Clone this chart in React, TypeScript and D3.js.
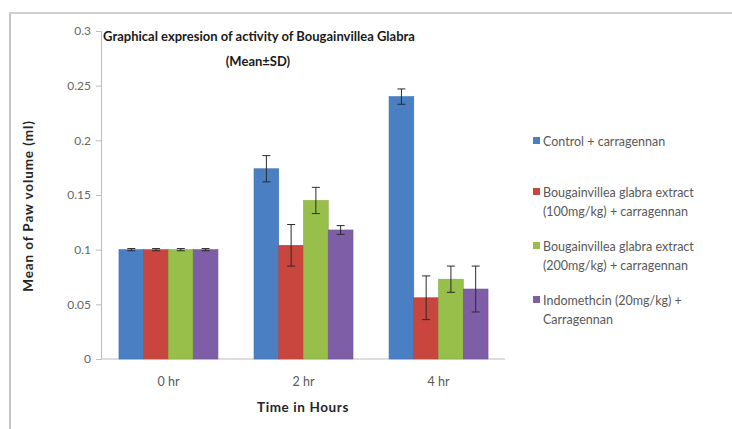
import { useEffect, useRef } from 'react'
import * as d3 from 'd3'

const categories = ['0 hr', '2 hr', '4 hr']
const seriesNames = [
  ['Control + carragennan'],
  ['Bougainvillea glabra extract', '(100mg/kg) + carragennan'],
  ['Bougainvillea glabra extract', '(200mg/kg) + carragennan'],
  ['Indomethcin (20mg/kg) +', 'Carragennan'],
]
const seriesColors = ['#4a7fc4', '#c9463f', '#97bf4a', '#7e5ea6']
// mean values per series, one per category
const control = [0.1, 0.174, 0.24]
const ext100 = [0.1, 0.104, 0.056]
const ext200 = [0.1, 0.145, 0.073]
const indo = [0.1, 0.118, 0.064]
// SD values
const controlSd = [0.001, 0.012, 0.007]
const ext100Sd = [0.001, 0.019, 0.02]
const ext200Sd = [0.001, 0.012, 0.012]
const indoSd = [0.001, 0.004, 0.021]
const yTicks = [0, 0.05, 0.1, 0.15, 0.2, 0.25, 0.3]

const FONT = 'Lato, "Open Sans", sans-serif'

export default function App() {
  const ref = useRef<SVGSVGElement>(null)

  useEffect(() => {
    const svg = d3.select(ref.current)
    svg.selectAll('*').remove()

    const means = [control, ext100, ext200, indo]
    const sds = [controlSd, ext100Sd, ext200Sd, indoSd]

    // outer frame (only left + top visible in the original)
    svg.append('line').attr('x1', 10).attr('x2', 10).attr('y1', 13).attr('y2', 429)
      .attr('stroke', '#c4c4c4').attr('stroke-width', 2)
    svg.append('line').attr('x1', 9).attr('x2', 732).attr('y1', 13).attr('y2', 13)
      .attr('stroke', '#cfcfcf').attr('stroke-width', 2)

    const y = d3.scaleLinear().domain([0, 0.3]).range([359, 31])
    const x = d3.scaleBand().domain(categories).range([101, 506]).paddingInner(0.267).paddingOuter(0.133)
    const xs = d3.scaleBand().domain(d3.range(4).map(String)).range([0, x.bandwidth()]).padding(0)

    // y axis
    const yAxis = svg.append('g').attr('transform', 'translate(101,0)')
      .call(d3.axisLeft(y).tickValues(yTicks).tickSize(5).tickFormat((d) => String(+d)))
    yAxis.select('.domain').attr('stroke', '#bdbdbd')
    yAxis.selectAll('.tick line').attr('stroke', '#bdbdbd')
    yAxis.selectAll('.tick text').attr('fill', '#666').attr('font-family', FONT)
      .attr('font-size', 12).attr('x', -10)

    // x axis line
    svg.append('line').attr('x1', 101).attr('x2', 505).attr('y1', y(0)).attr('y2', y(0))
      .attr('stroke', '#bdbdbd')

    categories.forEach((c) => {
      svg.append('text').attr('x', x(c)! + x.bandwidth() / 2).attr('y', 386)
        .attr('text-anchor', 'middle').attr('fill', '#595959').attr('font-family', FONT)
        .attr('font-size', 12.5).text(c)
    })

    const g = svg.append('g')
    means.forEach((vals, si) => {
      vals.forEach((v, ci) => {
        const bx = x(categories[ci])! + xs(String(si))!
        const w = xs.bandwidth()
        g.append('rect').attr('x', bx).attr('y', y(v)).attr('width', w).attr('height', y(0) - y(v))
          .attr('fill', seriesColors[si])
          .attr('stroke', d3.color(seriesColors[si])!.darker(0.3).toString()).attr('stroke-width', 0.6)
        const sd = sds[si][ci]
        const cx = bx + w / 2
        g.append('line').attr('x1', cx).attr('x2', cx).attr('y1', y(v + sd)).attr('y2', y(v - sd))
          .attr('stroke', '#2a2a2a').attr('stroke-width', 1)
        ;[v + sd, v - sd].forEach((e) => {
          g.append('line').attr('x1', cx - 4).attr('x2', cx + 4).attr('y1', y(e)).attr('y2', y(e))
            .attr('stroke', '#2a2a2a').attr('stroke-width', 1)
        })
      })
    })

    // titles
    const title = svg.append('text').attr('x', 259).attr('text-anchor', 'middle')
      .attr('font-family', FONT).attr('font-weight', 700).attr('font-size', 13).attr('fill', '#1a1a1a')
    title.append('tspan').attr('x', 259).attr('y', 41).text('Graphical expresion of activity of Bougainvillea Glabra')
    title.append('tspan').attr('x', 258).attr('y', 66).text('(Mean±SD)')

    svg.append('text').attr('x', 303).attr('y', 412).attr('text-anchor', 'middle')
      .attr('font-family', FONT).attr('font-weight', 700).attr('font-size', 13.5)
      .attr('letter-spacing', 0.6).attr('fill', '#262626')
      .text('Time in Hours')

    svg.append('text').attr('transform', 'translate(33,206) rotate(-90)').attr('text-anchor', 'middle')
      .attr('font-family', FONT).attr('font-weight', 700).attr('font-size', 13.5)
      .attr('letter-spacing', 0.9).attr('fill', '#262626')
      .text('Mean of Paw volume (ml)')

    // legend
    const legendY = [142, 193, 247, 301]
    seriesNames.forEach((lines, i) => {
      const ly = legendY[i]
      svg.append('rect').attr('x', 533).attr('y', ly - 5).attr('width', 7).attr('height', 7)
        .attr('fill', seriesColors[i])
      lines.forEach((t, li) => {
        svg.append('text').attr('x', 543).attr('y', ly + 4 + li * 19)
          .attr('font-family', FONT).attr('font-size', 12.5).attr('fill', '#595959').text(t)
      })
    })
  }, [])

  return (
    <svg ref={ref} width={732} height={429} viewBox="0 0 732 429"
      style={{ position: 'absolute', left: 0, top: 0, background: '#fff' }} />
  )
}
